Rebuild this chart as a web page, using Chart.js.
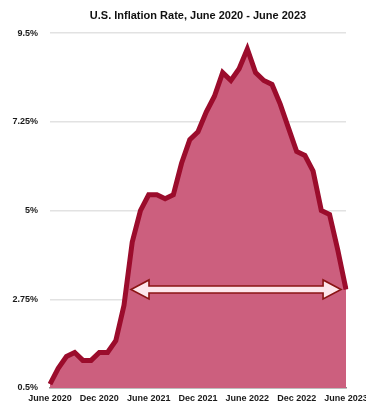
<!DOCTYPE html>
<html>
<head>
<meta charset="utf-8">
<script src="https://cdn.jsdelivr.net/npm/chart.js@4"></script>
<style>
  html, body { margin: 0; padding: 0; background: #fff; overflow: hidden; }
  #wrap { width: 366px; height: 401px; overflow: hidden; }
</style>
</head>
<body>
<div id="wrap">
  <canvas id="inflationChart" width="366" height="410"></canvas>
</div>
<script>
// monthly CPI, year over year
const months = [
  'Jun 2020', 'Jul 2020', 'Aug 2020', 'Sep 2020', 'Oct 2020', 'Nov 2020',
  'Dec 2020', 'Jan 2021', 'Feb 2021', 'Mar 2021', 'Apr 2021', 'May 2021',
  'Jun 2021', 'Jul 2021', 'Aug 2021', 'Sep 2021', 'Oct 2021', 'Nov 2021',
  'Dec 2021', 'Jan 2022', 'Feb 2022', 'Mar 2022', 'Apr 2022', 'May 2022',
  'Jun 2022', 'Jul 2022', 'Aug 2022', 'Sep 2022', 'Oct 2022', 'Nov 2022',
  'Dec 2022', 'Jan 2023', 'Feb 2023', 'Mar 2023', 'Apr 2023', 'May 2023',
  'Jun 2023'
];
const inflation = [
  0.6, 1.0, 1.3, 1.4, 1.2, 1.2,
  1.4, 1.4, 1.7, 2.6, 4.2, 5.0,
  5.4, 5.4, 5.3, 5.4, 6.2, 6.8,
  7.0, 7.5, 7.9, 8.5, 8.3, 8.6,
  9.1, 8.5, 8.3, 8.2, 7.7, 7.1,
  6.5, 6.4, 6.0, 5.0, 4.9, 4.0,
  3.0
];
const xTickLabels = ['June 2020', 'Dec 2020', 'June 2021', 'Dec 2021', 'June 2022', 'Dec 2022', 'June 2023'];
const yTicks = [0.5, 2.75, 5, 7.25, 9.5];

// double arrow marking the span (month index from/to, rate level)
const arrowFrom = 9.85;
const arrowTo = 35.4;
const arrowLevel = 3.0;

const FONT = '"Liberation Sans", Arial, Helvetica, sans-serif';

const arrowPlugin = {
  id: 'doubleArrow',
  afterDatasetsDraw(chart) {
    const { ctx, scales } = chart;
    const x1 = scales.x.getPixelForValue(arrowFrom);
    const x2 = scales.x.getPixelForValue(arrowTo);
    const y = scales.y.getPixelForValue(arrowLevel);
    const head = 18, halfHead = 9.5, halfShaft = 3.5;
    ctx.save();
    ctx.beginPath();
    ctx.moveTo(x1, y);
    ctx.lineTo(x1 + head, y - halfHead);
    ctx.lineTo(x1 + head, y - halfShaft);
    ctx.lineTo(x2 - head, y - halfShaft);
    ctx.lineTo(x2 - head, y - halfHead);
    ctx.lineTo(x2, y);
    ctx.lineTo(x2 - head, y + halfHead);
    ctx.lineTo(x2 - head, y + halfShaft);
    ctx.lineTo(x1 + head, y + halfShaft);
    ctx.lineTo(x1 + head, y + halfHead);
    ctx.closePath();
    ctx.fillStyle = '#fde6ec';
    ctx.fill();
    ctx.lineWidth = 1.6;
    ctx.strokeStyle = '#8a1414';
    ctx.lineJoin = 'miter';
    ctx.stroke();
    ctx.restore();
  }
};

new Chart(document.getElementById('inflationChart'), {
  type: 'line',
  data: {
    labels: months,
    datasets: [{
      data: inflation,
      borderColor: '#9b0c2c',
      borderWidth: 5,
      backgroundColor: '#cc5f7e',
      fill: 'start',
      pointRadius: 0,
      tension: 0,
    }],
  },
  options: {
    responsive: false,
    animation: false,
    layout: { padding: { left: 0, right: 20, top: 0, bottom: 0 } },
    plugins: {
      legend: { display: false },
      tooltip: { enabled: false },
      title: {
        display: true,
        text: 'U.S. Inflation Rate, June 2020 - June 2023',
        fullSize: false,
        color: '#111',
        font: { family: FONT, size: 11, weight: 'bold' },
        padding: { top: 9, bottom: 11 },
      },
    },
    scales: {
      x: {
        grid: { display: false, drawTicks: false },
        border: { display: true, color: '#8c8c8c', width: 1.5 },
        ticks: {
          autoSkip: false,
          maxRotation: 0,
          padding: 5.5,
          color: '#1a1a1a',
          font: { family: FONT, size: 9, weight: 'bold' },
          callback: (v, i) => (i % 6 === 0 ? xTickLabels[i / 6] : ''),
        },
        afterFit(scale) {
          scale.height = 22;
          scale.paddingLeft = 0;
          scale.paddingRight = 0;
        },
      },
      y: {
        min: 0.5,
        max: 9.5,
        afterBuildTicks(scale) {
          scale.ticks = yTicks.map(v => ({ value: v }));
        },
        grid: { color: '#e2e2e2', lineWidth: 1.5, drawTicks: false },
        border: { display: false },
        ticks: {
          padding: 12,
          color: '#1a1a1a',
          font: { family: FONT, size: 9, weight: 'bold' },
          callback: v => v + '%',
        },
        afterFit(scale) {
          scale.width = 50;
          scale.paddingTop = 0;
          scale.paddingBottom = 0;
        },
      },
    },
  },
  plugins: [arrowPlugin],
});
</script>
</body>
</html>
